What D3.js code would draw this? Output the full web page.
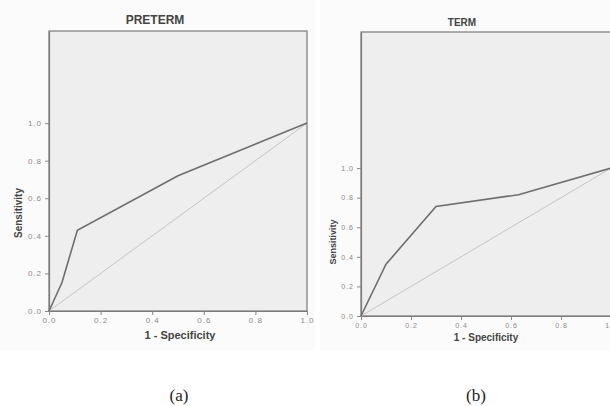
<!DOCTYPE html>
<html><head><meta charset="utf-8">
<script src="https://cdn.jsdelivr.net/npm/d3@7"></script>
<style>body{margin:0;background:#fff}svg{display:block}</style>
</head><body>
<script>
// Data
const titles = ["PRETERM", "TERM"];
const captions = ["(a)", "(b)"];
const tickValues = [0, 0.2, 0.4, 0.6, 0.8, 1.0];
const pretermFpr = [0, 0.05, 0.11, 0.5, 1.0];
const pretermTpr = [0, 0.15, 0.43, 0.72, 1.0];
const termFpr = [0, 0.10, 0.30, 0.63, 1.0];
const termTpr = [0, 0.35, 0.74, 0.82, 1.0];
const refX = [0, 1];
const refY = [0, 1];

const W = 610, H = 406;
const svg = d3.select("body").append("svg").attr("width", W).attr("height", H);
const SANS = "Liberation Sans, Arial, sans-serif";

const panels = [
  {title: titles[0], cap: captions[0], fx: pretermFpr, fy: pretermTpr,
   left: 49, right: 307, top: 31, bottom: 311, yTop: 1.49, bg: [0, 0, 315, 350],
   titleX: 155, titleY: 24, titleSize: 12, labelX: 18, labelY: 213, labelSize: 10,
   xLabelX: 180, xLabelY: 339, xLabelSize: 11, capX: 179, tickSize: 8},
  {title: titles[1], cap: captions[1], fx: termFpr, fy: termTpr,
   left: 361, right: 611, top: 32, bottom: 316, yTop: 1.92, bg: [320, 0, 290, 350],
   titleX: 462, titleY: 26, titleSize: 10, labelX: 333, labelY: 242, labelSize: 9,
   xLabelX: 486, xLabelY: 341, xLabelSize: 10, capX: 476, tickSize: 7}
];

panels.forEach(p => {
  svg.append("rect").attr("x", p.bg[0]).attr("y", p.bg[1]).attr("width", p.bg[2]).attr("height", p.bg[3]).attr("fill", "#fbfbfb");
  const x = d3.scaleLinear().domain([0, 1]).range([p.left, p.right]);
  const y = d3.scaleLinear().domain([0, p.yTop]).range([p.bottom, p.top]);
  const g = svg.append("g");
  g.append("rect").attr("x", x(0)).attr("y", y(p.yTop)).attr("width", x(1) - x(0)).attr("height", y(0) - y(p.yTop))
    .attr("fill", "#eeeeee").attr("stroke", "#7a7a7a").attr("stroke-width", 1.2);
  const xa = g.append("g").attr("transform", `translate(0,${y(0)})`)
    .call(d3.axisBottom(x).tickValues(tickValues).tickFormat(d3.format(".1f")).tickSize(4).tickPadding(2).tickSizeOuter(0));
  const ya = g.append("g").attr("transform", `translate(${x(0)},0)`)
    .call(d3.axisLeft(y).tickValues(tickValues).tickFormat(d3.format(".1f")).tickSize(4).tickSizeOuter(0));
  [xa, ya].forEach(a => {
    a.select(".domain").attr("stroke", "#7a7a7a").attr("stroke-width", 1.2);
    a.selectAll(".tick line").attr("stroke", "#888");
    a.selectAll("text").attr("fill", "#8a8a8a").style("font-family", SANS)
      .style("font-size", p.tickSize + "px").style("letter-spacing", "1px");
  });
  xa.selectAll("text").attr("dy", "0.8em");
  const line = d3.line().x(d => x(d[0])).y(d => y(d[1]));
  g.append("path").datum(d3.zip(refX, refY)).attr("d", line).attr("fill", "none").attr("stroke", "#c4c4c4").attr("stroke-width", 1);
  g.append("path").datum(d3.zip(p.fx, p.fy)).attr("d", line).attr("fill", "none").attr("stroke", "#6e6e6e").attr("stroke-width", 1.6);
  svg.append("text").attr("x", p.titleX).attr("y", p.titleY).attr("text-anchor", "middle")
    .style("font-family", SANS).style("font-weight", "bold").style("font-size", p.titleSize + "px")
    .attr("fill", "#444").text(p.title);
  svg.append("text").attr("x", p.xLabelX).attr("y", p.xLabelY).attr("text-anchor", "middle")
    .style("font-family", SANS).style("font-weight", "bold").style("font-size", p.xLabelSize + "px")
    .attr("fill", "#444").text("1 - Specificity");
  svg.append("text").attr("transform", `translate(${p.labelX},${p.labelY}) rotate(-90)`).attr("text-anchor", "middle")
    .attr("dy", "0.35em")
    .style("font-family", SANS).style("font-weight", "bold").style("font-size", p.labelSize + "px")
    .attr("fill", "#444").text("Sensitivity");
  svg.append("text").attr("x", p.capX).attr("y", 401).attr("text-anchor", "middle")
    .style("font-family", "Liberation Serif, Times New Roman, serif").style("font-size", "17px")
    .attr("fill", "#222").text(p.cap);
});
</script>
</body></html>
